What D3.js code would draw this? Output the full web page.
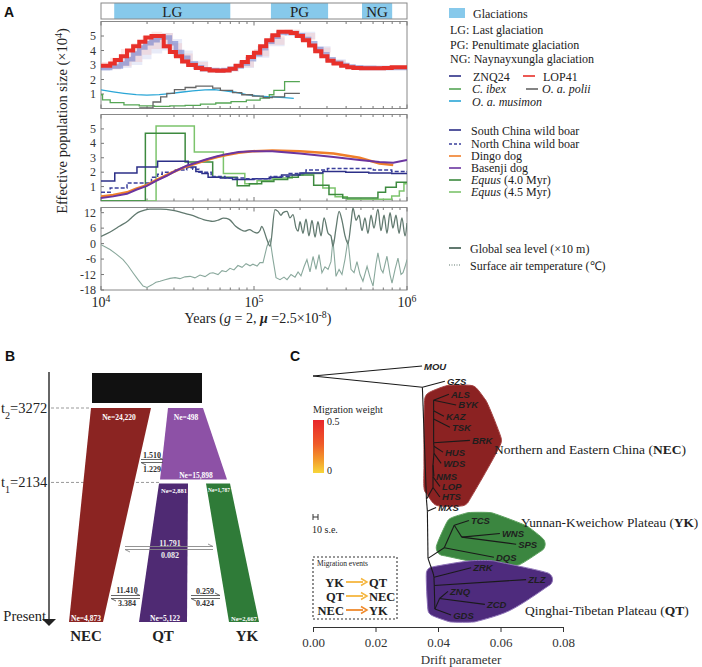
<!DOCTYPE html>
<html><head><meta charset="utf-8">
<script src="https://cdn.jsdelivr.net/npm/d3@7"></script>
<style>
body{margin:0;background:#fff;}
svg{font-family:"Liberation Serif","Times New Roman",serif;}
</style></head>
<body><svg id="chart" width="702" height="667"></svg>
<script>
// ======================= DATA =======================
const glaciations = [
  {name:"LG", start:12200, end:70000},
  {name:"PG", start:129000, end:305000},
  {name:"NG", start:508000, end:800000}
];
const neTicks = [1,2,3,4,5];
const seaTicks = [12,6,0,-6,-12,-18];
const yearMajorTicks = [1e4,1e5,1e6];
const yearTickExponents = [4,5,6];

// PSMC series: [log10(years), Ne (x10^4)]
const lop41 = [[4.00,2.95],[4.06,3.1],[4.09,3.35],[4.13,3.6],[4.17,4.0],[4.21,4.3],[4.25,4.6],[4.29,4.9],[4.33,5.0],[4.37,5.0],[4.41,4.3],[4.45,3.9],[4.49,3.6],[4.53,3.25],[4.57,3.0],[4.62,2.8],[4.66,2.7],[4.71,2.62],[4.76,2.6],[4.80,2.62],[4.84,2.75],[4.88,2.95],[4.92,3.2],[4.96,3.55],[5.00,3.85],[5.04,4.3],[5.08,4.7],[5.12,5.05],[5.16,5.3],[5.20,5.3],[5.24,5.2],[5.28,5.0],[5.32,4.7],[5.36,4.35],[5.40,3.95],[5.44,3.6],[5.48,3.3],[5.52,3.1],[5.57,2.95],[5.61,2.85],[5.65,2.8],[5.70,2.78],[5.78,2.78],[5.85,2.8],[5.90,2.85],[6.00,2.9]];
const znq24 = [[4.00,2.8],[4.06,2.9],[4.13,3.1],[4.17,3.4],[4.21,3.8],[4.25,4.2],[4.29,4.5],[4.33,4.7],[4.37,4.9],[4.41,4.9],[4.45,4.5],[4.49,3.9],[4.53,3.5],[4.57,3.1],[4.62,2.85],[4.66,2.7],[4.71,2.65],[4.76,2.62],[4.80,2.65],[4.84,2.75],[4.88,2.9],[4.92,3.1],[4.96,3.4],[5.00,3.75],[5.04,4.15],[5.08,4.6],[5.12,4.95],[5.16,5.2],[5.20,5.25],[5.24,5.2],[5.28,5.05],[5.32,4.8],[5.36,4.5],[5.40,4.1],[5.44,3.75],[5.48,3.4],[5.52,3.15],[5.57,3.0],[5.61,2.9],[5.65,2.82],[5.70,2.8],[6.00,2.9]];
const bootLogYears = [4.0,4.06,4.13,4.2,4.27,4.33,4.4,4.47,4.53,4.6,4.7,4.8,4.9,5.0,5.1,5.2,5.3,5.4,5.5,5.6,5.8,6.0];
const lopBootLow  = [2.7,2.7,2.9,3.2,3.7,4.1,4.1,3.5,3.1,2.75,2.55,2.55,2.85,3.6,4.4,5.1,4.7,3.8,3.1,2.8,2.7,2.8];
const lopBootHigh = [3.2,3.5,4.1,4.5,5.0,5.3,5.2,4.5,3.8,3.2,2.75,2.8,3.3,4.1,5.0,5.45,5.2,4.2,3.35,2.95,2.85,2.95];
const znqBootLow  = [2.6,2.7,2.8,3.0,3.4,3.8,4.0,3.6,3.1,2.75,2.55,2.55,2.8,3.5,4.3,5.0,4.8,3.9,3.1,2.8,2.7,2.8];
const znqBootHigh = [3.0,3.2,3.6,4.1,4.7,5.1,5.2,4.8,4.0,3.3,2.8,2.8,3.2,4.0,4.9,5.35,5.3,4.3,3.4,3.0,2.85,2.95];
const cIbex = [[4.00,0.95],[4.01,0.6],[4.06,0.4],[4.15,0.25],[4.25,0.18],[4.35,0.15],[4.45,0.18],[4.55,0.22],[4.65,0.3],[4.75,0.38],[4.85,0.47],[4.95,0.58],[5.04,0.72],[5.10,0.95],[5.13,1.25],[5.20,1.85],[5.30,1.85]];
const oaPolii = [[4.25,0.05],[4.34,0.45],[4.39,0.8],[4.43,1.05],[4.48,1.3],[4.55,1.45],[4.62,1.55],[4.73,1.4],[4.78,1.25],[4.86,1.1],[4.92,0.95],[4.99,0.85],[5.06,0.75],[5.12,0.8],[5.20,1.05],[5.30,1.05]];
const oaMusimon = [[4.00,1.28],[4.08,1.15],[4.15,1.05],[4.23,0.95],[4.30,0.92],[4.38,0.95],[4.45,1.02],[4.52,1.12],[4.60,1.22],[4.68,1.28],[4.74,1.3],[4.81,1.22],[4.88,1.12],[4.95,0.95],[5.04,0.85],[5.11,0.8],[5.20,0.75],[5.26,0.7]];
const southBoar = [[4.00,1.38],[4.09,1.95],[4.235,2.35],[4.37,2.75],[4.57,2.35],[4.62,2.05],[4.66,1.9],[4.70,1.65],[4.78,1.6],[4.86,1.5],[5.00,1.55],[5.10,1.65],[5.18,1.8],[5.30,1.95],[5.45,2.05],[5.60,2.0],[5.75,1.95],[5.90,1.9],[6.00,1.9]];
const northBoar = [[4.00,0.6],[4.06,0.9],[4.17,1.25],[4.33,1.65],[4.37,1.85],[4.40,2.0],[4.48,2.15],[4.56,2.3],[4.60,2.2],[4.64,2.0],[4.72,1.7],[4.81,1.6],[4.95,1.55],[5.11,1.7],[5.23,1.9],[5.34,2.15],[5.48,2.25],[5.65,2.25],[5.78,2.15],[5.90,2.05],[6.00,2.0]];
const dingo = [[4.00,0.3],[4.08,0.42],[4.17,0.6],[4.23,0.85],[4.30,1.1],[4.36,1.45],[4.43,1.8],[4.49,2.1],[4.56,2.4],[4.62,2.6],[4.69,2.85],[4.76,3.05],[4.82,3.2],[4.90,3.35],[4.99,3.45],[5.12,3.5],[5.30,3.45],[5.52,3.3],[5.69,3.0],[5.82,2.6],[5.91,2.5]];
const basenji = [[4.00,0.2],[4.08,0.32],[4.17,0.5],[4.23,0.78],[4.30,1.05],[4.36,1.4],[4.43,1.75],[4.49,2.1],[4.56,2.45],[4.62,2.65],[4.69,2.9],[4.76,3.1],[4.82,3.25],[4.90,3.4],[4.99,3.45],[5.12,3.45],[5.30,3.3],[5.52,3.05],[5.69,2.85],[5.82,2.7],[5.91,2.65],[6.00,2.85]];
const equus40 = [[4.00,0],[4.29,4.7],[4.55,2.7],[4.73,1.65],[4.89,1.05],[4.97,1.2],[5.05,1.35],[5.13,1.5],[5.22,1.65],[5.29,1.8],[5.39,1.1],[5.49,0.45],[5.58,0.2],[5.81,0.6],[5.86,0.95],[5.93,1.3],[6.00,1.3]];
const equus45 = [[4.00,0],[4.36,5.2],[4.61,3.4],[4.80,1.9],[4.94,1.2],[5.02,1.4],[5.12,1.6],[5.25,1.8],[5.32,1.9],[5.45,0.9],[5.53,0.3],[5.61,0.12],[5.90,0.35],[5.95,0.7],[5.98,1.2],[6.00,1.2]];
// climate: [log10(years), value]
const seaLevel = [[4.00,2.8],[4.06,4.5],[4.12,6.7],[4.18,9],[4.21,10.6],[4.24,12],[4.28,12.9],[4.32,13.4],[4.39,13.4],[4.47,12.9],[4.53,12],[4.58,11.2],[4.63,10.2],[4.67,9.3],[4.70,8.9],[4.73,8.6],[4.77,9.2],[4.80,9.9],[4.82,9.8],[4.84,9.3],[4.88,6.7],[4.91,5.5],[4.94,4.8],[4.97,5.4],[5.00,4.5],[5.02,4.1],[5.04,5.2],[5.05,6.7],[5.085,1.5],[5.105,-1],[5.137,13.2],[5.157,12.5],[5.176,11],[5.19,12],[5.216,12.5],[5.235,10],[5.255,11.2],[5.275,6],[5.288,4.8],[5.301,8.5],[5.32,4],[5.34,9.5],[5.359,3],[5.379,9],[5.399,2.5],[5.418,8.5],[5.438,3],[5.458,10],[5.484,4],[5.503,3],[5.516,-1],[5.536,6],[5.556,12.5],[5.575,9],[5.595,3],[5.614,0],[5.634,8],[5.647,13.8],[5.667,9],[5.686,11],[5.706,5],[5.725,10],[5.745,4],[5.765,11],[5.784,6],[5.81,13.4],[5.83,5],[5.85,11],[5.869,4],[5.889,12],[5.908,6],[5.928,11],[5.948,4],[5.967,10],[5.987,3],[6.00,8]];
const airTemp = [[4.00,-0.4],[4.026,-1.2],[4.059,-2.3],[4.098,-4],[4.144,-6.2],[4.176,-8.5],[4.209,-11.3],[4.242,-14],[4.275,-16.5],[4.301,-17],[4.333,-16],[4.359,-15],[4.386,-14.6],[4.418,-14],[4.451,-13.5],[4.484,-13.2],[4.516,-13.6],[4.549,-12.9],[4.582,-12.7],[4.614,-13.3],[4.647,-12.2],[4.68,-12.8],[4.712,-11.5],[4.732,-11.3],[4.765,-12],[4.791,-10.5],[4.817,-10.9],[4.843,-9.6],[4.869,-10.2],[4.895,-8.5],[4.922,-9.2],[4.948,-7.8],[4.974,-8.6],[4.993,-8],[5.02,-8.7],[5.039,-7.4],[5.059,-7.4],[5.085,-1],[5.105,1.5],[5.124,-6],[5.144,-13.2],[5.17,-14],[5.196,-13],[5.216,-14],[5.242,-12],[5.268,-13],[5.288,-11],[5.307,-12.5],[5.327,-9],[5.346,-6.2],[5.366,-11],[5.386,-5],[5.405,-10],[5.425,-4.3],[5.444,-11.3],[5.464,-9],[5.484,-10],[5.503,-7],[5.516,1.5],[5.536,-12.7],[5.556,-10],[5.575,-12],[5.595,-6],[5.614,1.5],[5.634,-10],[5.654,-11.3],[5.673,-7],[5.693,-12],[5.712,-14.6],[5.739,-8.8],[5.758,-13],[5.778,-16.5],[5.797,-8],[5.81,-3.6],[5.83,-10],[5.843,-11.3],[5.869,-4.9],[5.889,-12],[5.902,-15.3],[5.922,-10],[5.941,-5.6],[5.961,-12],[5.974,-11.3],[5.987,-9],[6.00,-6.2]];

// Panel B (demography)
const splitTimes = [3272, 2134];           // t2, t1
const popLabels = ["NEC","QT","YK"];
const neNEC = [24220, 4873];               // top, present
const neQTanc = [498, 15898];
const neQT = [2881, 5122];
const neYK = [1787, 2667];
const migRates = [["1.510","1.229"],["11.791","0.082"],["11.410","3.384"],["0.259","0.424"]];

// Panel C (TreeMix)
const driftTicks = [0,0.02,0.04,0.06,0.08];
// [id, parent, drift, vertical order]
const treeNodes = [
 ["root",null,0,0.85],["MOU","root",0.0349,0],["n1","root",0.0350,1.8],["GZS","n1",0.0422,1.3],
 ["n2","n1",0.0363,11.3],["e1","n2",0.0384,10.3],["HTS","e1",0.0406,11.1],["e2","e1",0.0384,9.4],
 ["LOP","e2",0.0406,10.2],["e3","e2",0.0384,8.4],["NMS","e3",0.0387,9.35],["e4","e3",0.0387,7.4],
 ["WDS","e4",0.0410,8.25],["e5","e4",0.0387,6.8],["HUS","e5",0.0416,7.3],["e6","e5",0.0386,6.5],
 ["BRK","e6",0.0502,6.3],["e7","e6",0.0386,4.5],["TSK","e7",0.0438,5.2],["e8","e7",0.0386,3.8],
 ["KAZ","e8",0.0419,4.25],["e9","e8",0.0386,2.9],["BYK","e9",0.0458,3.3],["ALS","e9",0.0435,2.4],
 ["n3","n2",0.0366,12.3],["MXS","n3",0.0394,12.0],["n4","n3",0.0368,16.3],
 ["y1","n4",0.0420,15.4],["DQS","y1",0.0579,16.2],["y2","y1",0.0452,13.5],["TCS","y2",0.0499,13.1],
 ["y3","y2",0.0476,14.5],["WNS","y3",0.0598,14.2],["SPS","y3",0.0650,15.1],
 ["n5","n4",0.0385,17.6],["q1","n5",0.0387,17.9],["ZRK","q1",0.0506,17.1],["q2","q1",0.0388,18.6],
 ["ZLZ","q2",0.0682,18.1],["q3","q2",0.0390,20.6],["q4","q3",0.0405,19.7],["ZNQ","q4",0.0432,19.1],
 ["ZCD","q4",0.0550,20.2],["GDS","q3",0.0442,21.1]
];
const cladeNEC = ["ALS","BYK","KAZ","TSK","BRK","HUS","WDS","NMS","LOP","HTS","e1","e2","e3","e4","e5","e6","e7","e8","e9"];
const cladeYK = ["TCS","WNS","SPS","DQS","y1","y2","y3"];
const cladeQT = ["ZRK","ZLZ","ZNQ","ZCD","GDS","q1","q2","q3","q4","n5"];
const migrationEvents = [["YK","QT"],["QT","NEC"],["NEC","YK"]];
const migWeightTicks = [0.5, 0];

// ======================= DRAW =======================
const svg = d3.select("#chart");
const SANS = '"Liberation Sans",Arial,sans-serif';
const Y = v => Math.pow(10, v);

function rich(g, x, y, parts, size, anchor) {
  const t = g.append("text").attr("x", x).attr("y", y).attr("font-size", size).attr("fill", "#222");
  if (anchor) t.attr("text-anchor", anchor);
  parts.forEach(p => {
    const s = t.append("tspan").text(p.t);
    if (p.i) s.attr("font-style", "italic");
    if (p.b) s.attr("font-weight", "bold");
    if (p.sup) s.attr("baseline-shift", "super").attr("font-size", "70%");
    if (p.sub) s.attr("baseline-shift", "sub").attr("font-size", "70%");
  });
  return t;
}

// Panel labels
[["A",4,17],["B",5,361],["C",290,361]].forEach(([s,x,y]) =>
  svg.append("text").attr("x",x).attr("y",y).style("font-family",SANS).attr("font-weight","bold").attr("font-size",14).attr("fill","#111").text(s));

// ---------- Panel A ----------
const xA = d3.scaleLog().domain([1e4,1e6]).range([101,407]);
const yA1 = d3.scaleLinear().domain([0,6]).range([108.5,21.5]);
const yA2 = d3.scaleLinear().domain([0,6]).range([201,114.5]);
const yA3 = d3.scaleLinear().domain([-18,14]).range([290,207.5]);
const gA = svg.append("g");

// glaciation bar
gA.selectAll("rect.gl").data(glaciations).join("rect")
  .attr("x", d => xA(d.start)).attr("width", d => xA(d.end) - xA(d.start))
  .attr("y", 3).attr("height", 16).attr("fill", "#87c9eb");
gA.append("rect").attr("x",101).attr("y",3).attr("width",306).attr("height",16).attr("fill","none").attr("stroke","#888");
gA.selectAll("text.gl").data(glaciations).join("text")
  .attr("x", d => (xA(d.start)+xA(d.end))/2).attr("y", 16.5).attr("text-anchor","middle")
  .attr("font-size",15).attr("fill","#222").text(d => d.name);

const panels = [
  {y: yA1, ticks: neTicks, id:"p1"},
  {y: yA2, ticks: neTicks, id:"p2"},
  {y: yA3, ticks: seaTicks, id:"p3"}
];
const defs = svg.append("defs");
panels.forEach(p => {
  const [b, t] = p.y.range();
  defs.append("clipPath").attr("id", p.id).append("rect").attr("x",101).attr("y",t).attr("width",306).attr("height",b-t);
  gA.append("rect").attr("x",101).attr("y",t).attr("width",306).attr("height",b-t).attr("fill","none").attr("stroke","#888");
  xA.ticks().forEach(v => {
    const maj = yearMajorTicks.includes(v);
    const L = maj ? 4 : 2.5;
    gA.append("line").attr("x1",xA(v)).attr("x2",xA(v)).attr("y1",b).attr("y2",b-L).attr("stroke","#777");
    gA.append("line").attr("x1",xA(v)).attr("x2",xA(v)).attr("y1",t).attr("y2",t+L).attr("stroke","#777");
  });
  p.ticks.forEach(v => {
    gA.append("line").attr("x1",101).attr("x2",104).attr("y1",p.y(v)).attr("y2",p.y(v)).attr("stroke","#777");
    gA.append("text").attr("x",96).attr("y",p.y(v)+4).attr("text-anchor","end").attr("font-size",12).attr("fill","#333").text(v);
  });
});

const lineA = (y, curve) => d3.line().x(d => xA(Y(d[0]))).y(d => y(d[1])).curve(curve || d3.curveStepAfter);
const areaBoot = (low, high, y) => d3.area().x((d,i) => xA(Y(bootLogYears[i]))).y0((d,i) => y(low[i])).y1((d,i) => y(high[i])).curve(d3.curveStepAfter)(bootLogYears);

const g1 = gA.append("g").attr("clip-path","url(#p1)");
g1.append("path").attr("d", areaBoot(znqBootLow, znqBootHigh, yA1)).attr("fill","#b3bce8").attr("opacity",0.3);
g1.append("path").attr("d", areaBoot(lopBootLow, lopBootHigh, yA1)).attr("fill","#f6b3ae").attr("opacity",0.3);
g1.append("path").attr("d", lineA(yA1)(znq24)).attr("fill","none").attr("stroke","#5a6cc4").attr("stroke-width",4.5).attr("opacity",0.5);
g1.append("path").attr("d", lineA(yA1)(lop41)).attr("fill","none").attr("stroke","#e8302a").attr("stroke-width",4);
g1.append("path").attr("d", lineA(yA1, d3.curveLinear)(oaMusimon)).attr("fill","none").attr("stroke","#2aa6d6").attr("stroke-width",1.3);
g1.append("path").attr("d", lineA(yA1)(cIbex)).attr("fill","none").attr("stroke","#56a655").attr("stroke-width",1.3);
g1.append("path").attr("d", lineA(yA1)(oaPolii)).attr("fill","none").attr("stroke","#666").attr("stroke-width",1.3);

const g2 = gA.append("g").attr("clip-path","url(#p2)");
g2.append("path").attr("d", lineA(yA2)(equus45)).attr("fill","none").attr("stroke","#7cc46c").attr("stroke-width",1.5);
g2.append("path").attr("d", lineA(yA2)(equus40)).attr("fill","none").attr("stroke","#3d8a3f").attr("stroke-width",1.5);
g2.append("path").attr("d", lineA(yA2)(southBoar)).attr("fill","none").attr("stroke","#2c2f88").attr("stroke-width",1.5);
g2.append("path").attr("d", lineA(yA2)(northBoar)).attr("fill","none").attr("stroke","#3a3f9c").attr("stroke-width",1.5).attr("stroke-dasharray","4,2");
g2.append("path").attr("d", lineA(yA2, d3.curveLinear)(dingo)).attr("fill","none").attr("stroke","#f07f2a").attr("stroke-width",2.6);
g2.append("path").attr("d", lineA(yA2, d3.curveLinear)(basenji)).attr("fill","none").attr("stroke","#6b35a0").attr("stroke-width",2);

const g3 = gA.append("g").attr("clip-path","url(#p3)");
g3.append("path").attr("d", lineA(yA3, d3.curveLinear)(airTemp)).attr("fill","none").attr("stroke","#89a89c").attr("stroke-width",1.1);
g3.append("path").attr("d", lineA(yA3, d3.curveMonotoneX)(seaLevel)).attr("fill","none").attr("stroke","#61796f").attr("stroke-width",1.3);

// x tick labels
yearMajorTicks.forEach((v,i) => rich(gA, xA(v), 307, [{t:"10"},{t:String(yearTickExponents[i]),sup:true}], 14, "middle"));
rich(gA, 258, 323, [{t:"Years ("},{t:"g",i:true},{t:" = 2, "},{t:"μ",i:true,b:true},{t:" =2.5×10"},{t:"-8",sup:true},{t:")"}], 14, "middle");
rich(gA, 0, 0, [{t:"Effective population size (×10"},{t:"4",sup:true},{t:")"}], 14.5, "middle")
  .attr("transform","translate(67,121) rotate(-90)");

// legend A
const lg = svg.append("g");
const LF = 12;
lg.append("rect").attr("x",449).attr("y",8).attr("width",16).attr("height",10).attr("fill","#87c9eb");
rich(lg, 473, 17.5, [{t:"Glaciations"}], LF);
rich(lg, 450, 34, [{t:"LG: Last glaciation"}], LF);
rich(lg, 450, 48.5, [{t:"PG: Penultimate glaciation"}], LF);
rich(lg, 450, 62.5, [{t:"NG: Naynayxungla glaciation"}], LF);
function legLine(x, y, color, dash, w) {
  const l = lg.append("line").attr("x1",x).attr("x2",x+12).attr("y1",y).attr("y2",y).attr("stroke",color).attr("stroke-width",w||1.6);
  if (dash) l.attr("stroke-dasharray", dash);
}
legLine(449,76,"#2c2f88"); rich(lg, 473, 80.5, [{t:"ZNQ24"}], LF);
legLine(523,76,"#e8302a"); rich(lg, 543, 80.5, [{t:"LOP41"}], LF);
legLine(449,89,"#56a655"); rich(lg, 472, 93, [{t:"C. ibex",i:true}], LF);
legLine(526,89,"#666"); rich(lg, 542, 93, [{t:"O. a. polii",i:true}], LF);
legLine(449,101,"#2aa6d6"); rich(lg, 472, 105.5, [{t:"O. a. musimon",i:true}], LF);
legLine(449,130,"#2c2f88"); rich(lg, 471, 134.5, [{t:"South China wild boar"}], LF);
legLine(449,144,"#3a3f9c","3,2"); rich(lg, 471, 148, [{t:"North China wild boar"}], LF);
legLine(449,156,"#f07f2a"); rich(lg, 471, 160, [{t:"Dingo dog"}], LF);
legLine(449,168,"#6b35a0"); rich(lg, 471, 172, [{t:"Basenji dog"}], LF);
legLine(449,180,"#3d8a3f"); rich(lg, 471, 184, [{t:"Equus",i:true},{t:" (4.0 Myr)"}], LF);
legLine(449,192,"#7cc46c"); rich(lg, 471, 196, [{t:"Equus",i:true},{t:" (4.5 Myr)"}], LF);
legLine(449,248,"#61796f",null,2); rich(lg, 470, 252.5, [{t:"Global sea level (×10 m)"}], LF);
legLine(449,265,"#61796f","1,1.5",1.2); rich(lg, 470, 269.5, [{t:"Surface air temperature (℃)"}], LF);

// ---------- Panel B ----------
const gB = svg.append("g");
const [t2, t1] = splitTimes;
const yB = d3.scaleLinear().domain([0, t2]).range([622, 408]);
gB.append("line").attr("x1",49).attr("x2",49).attr("y1",372).attr("y2",620).attr("stroke","#333").attr("stroke-width",1.5);
gB.append("path").attr("d","M42,619 L56,619 L49,626 Z").attr("fill","#222");
gB.append("rect").attr("x",92).attr("y",373).attr("width",110).attr("height",yB(t2)-5-373).attr("fill","#111");
gB.append("line").attr("x1",51).attr("x2",91).attr("y1",yB(t2)).attr("y2",yB(t2)).attr("stroke","#999").attr("stroke-dasharray","3,2");
gB.append("line").attr("x1",51).attr("x2",159).attr("y1",yB(t1)).attr("y2",yB(t1)).attr("stroke","#999").attr("stroke-dasharray","3,2");
rich(gB, 1, yB(t2)+5, [{t:"t"},{t:"2",sub:true},{t:"="+t2}], 14.5);
rich(gB, 1, yB(t1)+5, [{t:"t"},{t:"1",sub:true},{t:"="+t1}], 14.5);
rich(gB, 46, yB(0)-1, [{t:"Present"}], 14.5, "end");

const trap = (tl, tr, yt, bl, br, yb) => `M${tl},${yt}L${tr},${yt}L${br},${yb}L${bl},${yb}Z`;
gB.append("path").attr("d", trap(91,151,yB(t2), 69,103,yB(0))).attr("fill","#8b2422");
gB.append("path").attr("d", trap(168,203,yB(t2), 160,227,yB(t1)-3)).attr("fill","#8d51a6");
gB.append("path").attr("d", trap(159,188,yB(t1)+1, 139,187,yB(0))).attr("fill","#4f2a73");
gB.append("path").attr("d", trap(206,230,yB(t1)+1, 229,259,yB(0))).attr("fill","#2f7b38");

const fmt = d3.format(",");
const neLab = (x, y, v, s) => gB.append("text").attr("x",x).attr("y",y).attr("text-anchor","middle")
  .attr("font-size", s||7.5).attr("font-weight","bold").attr("fill","#fff").text("Ne=" + fmt(v));
neLab(119, 420, neNEC[0]); neLab(186, 420, neQTanc[0]); neLab(196, 478, neQTanc[1]);
neLab(174, 493, neQT[0], 6.5); neLab(219, 492, neYK[0], 5.5);
neLab(86, 621, neNEC[1]); neLab(165, 621, neQT[1]); neLab(244, 621, neYK[1], 6.5);

function migArrow(x1, x2, y, col) {
  gB.append("path").attr("d",`M${x1},${y-1.5}L${x2},${y-1.5}L${x2-5},${y-4}`).attr("fill","none").attr("stroke",col).attr("stroke-width",0.9);
  gB.append("path").attr("d",`M${x2},${y+1.5}L${x1},${y+1.5}L${x1+5},${y+4}`).attr("fill","none").attr("stroke",col).attr("stroke-width",0.9);
}
const migLab = (x, y, s, col) => gB.append("text").attr("x",x).attr("y",y).attr("text-anchor","middle").attr("font-size",8).attr("font-weight","bold").attr("fill",col).text(s);
migArrow(141,163,461,"#555"); migLab(152,458,migRates[0][0],"#333"); migLab(152,472,migRates[0][1],"#333");
migArrow(125,213,548,"#888"); migLab(170,546,migRates[1][0],"#eee"); migLab(170,558,migRates[1][1],"#eee");
migArrow(111,140,597,"#555"); migLab(127,593,migRates[2][0],"#333"); migLab(127,606,migRates[2][1],"#333");
migArrow(191,220,597,"#555"); migLab(205,594,migRates[3][0],"#333"); migLab(205,606,migRates[3][1],"#333");

[86,163,247].forEach((x,i) => gB.append("text").attr("x",x).attr("y",641).attr("text-anchor","middle")
  .attr("font-size",15).attr("font-weight","bold").attr("fill","#222").text(popLabels[i]));

// ---------- Panel C ----------
const gC = svg.append("g");
const xC = d3.scaleLinear().domain([0,0.08]).range([313,563]);
const yC = d3.scaleLinear().domain([0,21.1]).range([366,615]);
const nodes = treeNodes.map(([id,p,d,pos]) => ({id,p,d,pos}));
const byId = Object.fromEntries(nodes.map(n => [n.id, n]));
nodes.forEach(n => n.leaf = !nodes.some(m => m.p === n.id));

const gBlob = gC.append("g"), gTree = gC.append("g"), gLab = gC.append("g");
nodes.filter(n => n.leaf).forEach(n => {
  n.label = gLab.append("text").attr("x", xC(n.d)+2).attr("y", yC(n.pos)+3.5)
    .style("font-family", SANS).attr("font-size", 9.5).attr("font-weight","bold").attr("font-style","italic")
    .attr("fill", "#1e1e1e").text(n.id);
  n.w = n.label.node().getComputedTextLength();
});
nodes.filter(n => n.p).forEach(n => {
  const p = byId[n.p];
  gTree.append("line").attr("x1",xC(p.d)).attr("y1",yC(p.pos)).attr("x2",xC(n.d)).attr("y2",yC(n.pos))
    .attr("stroke","#1a1a1a").attr("stroke-width",1.1);
});
function blobPath(ids, pad) {
  const pts = [];
  ids.forEach(id => { const n = byId[id]; const x = xC(n.d), y = yC(n.pos);
    pts.push([x,y]); if (n.leaf) pts.push([x + n.w + 2, y]); });
  const ex = [];
  pts.forEach(([x,y]) => { for (let a = 0; a < 16; a++) ex.push([x + pad*Math.cos(a*Math.PI/8), y + pad*Math.sin(a*Math.PI/8)]); });
  return d3.line().curve(d3.curveCatmullRomClosed.alpha(0.5))(d3.polygonHull(ex));
}
gBlob.append("path").attr("d", blobPath(cladeNEC, 9)).attr("fill","#8b2222").attr("stroke","#a34040");
gBlob.append("path").attr("d", blobPath(cladeYK, 8)).attr("fill","#3b8640").attr("stroke","#5aa05c");
gBlob.append("path").attr("d", blobPath(cladeQT, 7)).attr("fill","#4e2b7d").attr("stroke","#8e73b8");

rich(gC, 494, 453.5, [{t:"Northern and Eastern China ("},{t:"NEC",b:true},{t:")"}], 13.5);
rich(gC, 521, 527, [{t:"Yunnan-Kweichow Plateau ("},{t:"YK",b:true},{t:")"}], 13.3);
rich(gC, 525, 615, [{t:"Qinghai-Tibetan Plateau ("},{t:"QT",b:true},{t:")"}], 13.5);

// x axis
const axC = gC.append("g").attr("transform","translate(0,627)")
  .call(d3.axisBottom(xC).tickValues(driftTicks).tickFormat(d3.format(".2f")).tickSize(5));
axC.select(".domain").attr("stroke","#333");
axC.selectAll(".tick line").attr("stroke","#333");
axC.selectAll("text").style("font-family",'"Liberation Serif",serif').attr("font-size",13).attr("fill","#333").attr("dy","0.9em");
gC.append("text").attr("x",461).attr("y",664).attr("text-anchor","middle").attr("font-size",13).attr("fill","#333").text("Drift parameter");

// migration weight legend
const grad = defs.append("linearGradient").attr("id","mw").attr("x1",0).attr("y1",0).attr("x2",0).attr("y2",1);
[["0%","#e8262b"],["45%","#ef5a28"],["75%","#f39a2b"],["100%","#f7d63a"]].forEach(([o,c]) => grad.append("stop").attr("offset",o).attr("stop-color",c));
rich(gC, 313, 413, [{t:"Migration weight"}], 10);
gC.append("rect").attr("x",313).attr("y",420).attr("width",11).attr("height",53).attr("fill","url(#mw)");
rich(gC, 327, 425, [{t:String(migWeightTicks[0])}], 10);
rich(gC, 327, 474, [{t:String(migWeightTicks[1])}], 10);
// scale bar
gC.append("path").attr("d","M313,514V520M313,517H318M318,514V520").attr("stroke","#333").attr("fill","none");
rich(gC, 312, 533, [{t:"10 s.e."}], 10);

// migration events box
gC.append("rect").attr("x",313).attr("y",557).attr("width",84).attr("height",62).attr("fill","none").attr("stroke","#333").attr("stroke-width",1.1).attr("stroke-dasharray","2,2");
rich(gC, 317, 566, [{t:"Migration events"}], 7.5);
const evCols = ["#f5b63f","#f5b63f","#ef8a2c"];
migrationEvents.forEach(([a,b], i) => {
  const y = 582 + i*14;
  gC.append("text").attr("x",344).attr("y",y+4.5).attr("text-anchor","end").attr("font-size",12.5).attr("font-weight","bold").attr("fill","#222").text(a);
  gC.append("line").attr("x1",346).attr("x2",363).attr("y1",y).attr("y2",y).attr("stroke",evCols[i]).attr("stroke-width",1.8);
  gC.append("path").attr("d",`M361,${y-3.5}L367,${y}L361,${y+3.5}`).attr("fill","none").attr("stroke",evCols[i]).attr("stroke-width",1.5);
  gC.append("text").attr("x",369).attr("y",y+4.5).attr("font-size",12.5).attr("font-weight","bold").attr("fill","#222").text(b);
});
</script></body></html>
